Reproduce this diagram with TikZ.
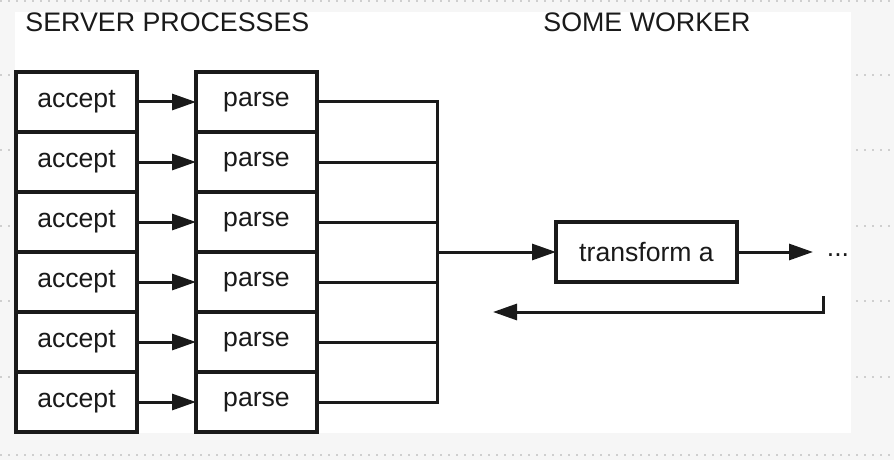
\documentclass[tikz,border=0pt]{standalone}
\usepackage{fontspec}
\setmainfont{Liberation Sans}
\usetikzlibrary{arrows.meta, positioning}

\definecolor{canvas}{HTML}{F6F6F6}
\definecolor{gridgray}{HTML}{CFCFCF}
\definecolor{ink}{HTML}{1A1A1A}

\begin{document}
\begin{tikzpicture}[
                x=0.5pt, y=-0.5pt,
                every node/.style={font=\fontsize{13.3}{16}\selectfont, text=ink},
                stage/.style={rectangle, minimum width=60.5pt, minimum height=30pt, inner sep=0pt, outer sep=0pt, draw=ink, line width=1.6pt, fill=white, align=center},
                wide/.style={stage, minimum width=90.5pt},
                title/.style={anchor=base west, inner sep=0pt, font=\fontsize{13.4}{16}\selectfont},
                link/.style={draw=ink, line width=1.5pt},
                arrow/.style={link, -{Triangle[length=12pt, width=8pt]}}
            ]

                % Background
                \useasboundingbox (0,0) rectangle (894,460);
                \fill [canvas] (0,0) rectangle (894,460);
                \foreach \gy in {1,75,150,226,301,377,455}
                    \draw [gridgray, line width=0.8pt, dash pattern=on 1pt off 3pt] (0,\gy) -- (894,\gy);
                \fill [white] (15,12) rectangle (851,433);

                % Titles
                \node (servertitle) [title] at (25,32) {SERVER PROCESSES};
                \node (workertitle) [title] at (543,32) {SOME WORKER};

                % Nodes
                \node (accept1) [stage] at (76.5,102) {accept};
                \node (accept2) [stage, below=0pt of accept1] {accept};
                \node (accept3) [stage, below=0pt of accept2] {accept};
                \node (accept4) [stage, below=0pt of accept3] {accept};
                \node (accept5) [stage, below=0pt of accept4] {accept};
                \node (accept6) [stage, below=0pt of accept5] {accept};
                \node (parse1) [stage, right=29.5pt of accept1] {parse};
                \node (parse2) [stage, below=0pt of parse1] {parse};
                \node (parse3) [stage, below=0pt of parse2] {parse};
                \node (parse4) [stage, below=0pt of parse3] {parse};
                \node (parse5) [stage, below=0pt of parse4] {parse};
                \node (parse6) [stage, below=0pt of parse5] {parse};
                \coordinate (bus) at ([xshift=60pt]parse3.south east);
                \node (transform) [wide, right=59.5pt of bus] {transform a};
                \node (dots) [inner sep=0pt, inner xsep=6.75pt, text height=4pt, right=38pt of transform] {...};
                \coordinate (backstart) at (823,296);
                \coordinate (backend) at (493,312);

                % Arrows
                \draw [arrow] (accept1) -- (parse1);
                \draw [arrow] (accept2) -- (parse2);
                \draw [arrow] (accept3) -- (parse3);
                \draw [arrow] (accept4) -- (parse4);
                \draw [arrow] (accept5) -- (parse5);
                \draw [arrow] (accept6) -- (parse6);
                \draw [link] (parse1.east) -| (bus) |- (parse6.east);
                \draw [link] (parse2.east) -- (parse2.east -| bus);
                \draw [link] (parse3.east) -- (parse3.east -| bus);
                \draw [link] (parse4.east) -- (parse4.east -| bus);
                \draw [link] (parse5.east) -- (parse5.east -| bus);
                \draw [arrow] (bus) -- (transform);
                \draw [arrow] (transform) -- (dots);
                \draw [arrow] (backstart) |- (backend);

            \end{tikzpicture}
\end{document}
